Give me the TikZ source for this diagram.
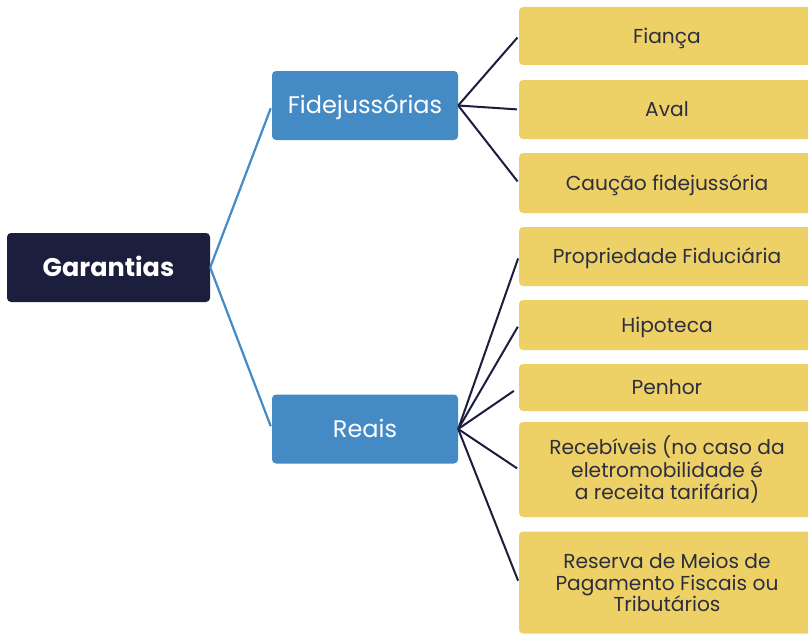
\documentclass[tikz,border=0pt]{standalone}
\usepackage{fontspec}
\setmainfont{Poppins}
\definecolor{navy}{HTML}{1B1E3C}
\definecolor{branchblue}{HTML}{448BC6}
\definecolor{leafyellow}{HTML}{EED166}
\definecolor{leaftext}{HTML}{2C2E40}
\tikzset{
  rootbox/.style={rectangle, rounded corners=4pt, fill=navy, text=white,
    minimum width=203pt, minimum height=69pt, inner sep=0pt,
    text height=17.9pt, text depth=0pt,
    font=\fontsize{25.5}{30}\selectfont\bfseries},
  branchbox/.style={rectangle, rounded corners=4pt, fill=branchblue, text=white,
    minimum width=186pt, minimum height=69pt, inner sep=0pt,
    text height=16.8pt, text depth=0pt,
    font=\fontsize{24}{28}\selectfont},
  leafbox/.style={rectangle, rounded corners=4pt, fill=leafyellow, text=leaftext,
    minimum width=296pt, inner sep=0pt, align=center,
    font=\fontsize{20.2}{22.5}\selectfont},
  % one-line leaf labels: capitals centred in the box
  oneleaf/.style={leafbox, text height=14.2pt, text depth=0pt},
  rootlink/.style={draw=branchblue, line width=2.2pt, shorten >=3pt},
  leaflink/.style={draw=navy, line width=2pt, shorten >=2pt},
}
\begin{document}
\begin{tikzpicture}[x=1pt, y=-1pt]
  \clip (0,0) rectangle (808,634);
  \fill[white] (0,0) rectangle (808,634);

  % root and the two kinds of guarantee
  \node[rootbox]   (garantias) at (108.5,267.5) {Garantias};
  \node[branchbox] (fidej)     at (365,105.5)   {Fidejussórias};
  \node[branchbox] (reais)     at (365,429)     {Reais};

  % personal guarantees
  \node[oneleaf, minimum height=58pt]  (fianca)  at (667,36)    {Fiança};
  \node[oneleaf, minimum height=59pt]  (aval)    at (667,109.5) {Aval};
  \node[oneleaf, minimum height=60pt]  (caucao)  at (667,183)   {Caução fidejussória};

  % real guarantees
  \node[oneleaf, minimum height=59pt]  (prop)    at (667,256.5) {Propriedade Fiduciária};
  \node[oneleaf, minimum height=50pt]  (hipo)    at (667,325)   {Hipoteca};
  \node[oneleaf, minimum height=47pt]  (penhor)  at (667,387.5) {Penhor};
  \node[leafbox, minimum height=95pt]  (receb)   at (667,469.5)
    {Recebíveis (no caso da\\eletromobilidade é\\a receita tarifária)};
  \node[leafbox, minimum height=102pt, font=\fontsize{20.2}{21.5}\selectfont] (reserva) at (667,582.5)
    {Reserva de Meios de\\Pagamento Fiscais ou\\Tributários};

  % connectors
  \draw[rootlink] (garantias.east) -- (fidej.west);
  \draw[rootlink] (garantias.east) -- (reais.west);

  \foreach \leaf in {fianca, aval, caucao}
    \draw[leaflink] (fidej.east) -- (\leaf.west);
  \foreach \leaf in {prop, hipo, receb, reserva}
    \draw[leaflink] (reais.east) -- (\leaf.west);
  \draw[leaflink, shorten >=6pt] (reais.east) -- (penhor.west);
\end{tikzpicture}
\end{document}
